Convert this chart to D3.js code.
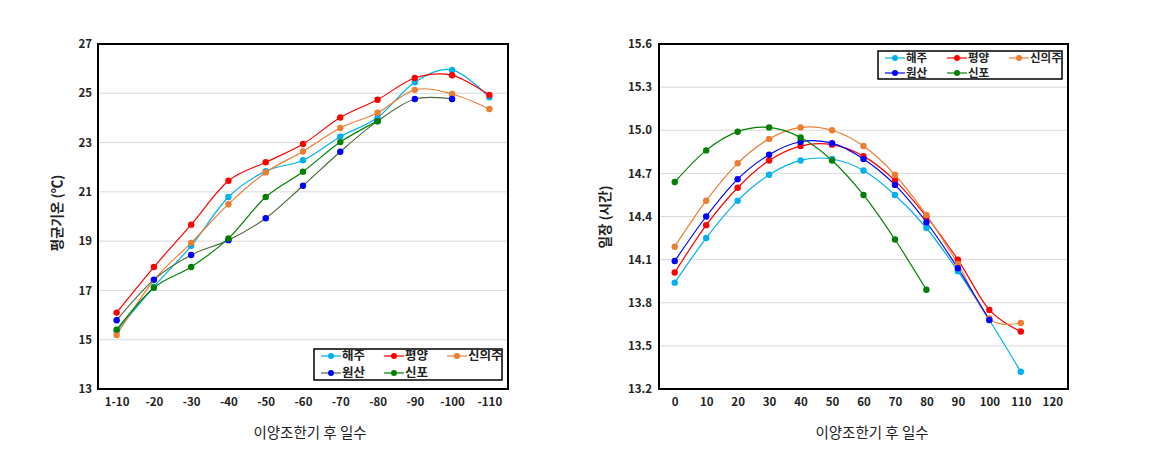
<!DOCTYPE html>
<html><head><meta charset="utf-8">
<script src="https://cdn.jsdelivr.net/npm/d3@7"></script>
<style>
body{margin:0;background:#fff;}
text{font-family:"Noto Sans CJK KR","Noto Sans",sans-serif;}
</style></head>
<body><svg id="c" width="1149" height="472"></svg>
<script>
// ---------- Data ----------
const seriesNames = ["해주","평양","신의주","원산","신포"];
const markerColors = ["#00B0F0","#FF0000","#ED7D31","#0000FF","#008000"];
const leftLineColors = ["#00B0F0","#FF0000","#ED7D31","#4F6B3A","#008000"];
const rightLineColors = ["#00B0F0","#FF0000","#ED7D31","#0000FF","#008000"];

// Left chart: 평균기온
const leftCategories = ["1-10","-20","-30","-40","-50","-60","-70","-80","-90","-100","-110"];
const tempHaeju    = [15.35,17.15,18.81,20.79,21.84,22.28,23.24,24.02,25.45,25.95,24.84];
const tempPyongyang= [16.10,17.95,19.67,21.45,22.20,22.94,24.02,24.74,25.62,25.73,24.93];
const tempSinuiju  = [15.19,17.42,18.93,20.50,21.79,22.64,23.59,24.21,25.14,24.97,24.36];
const tempWonsan   = [15.79,17.44,18.44,19.04,19.93,21.25,22.63,23.87,24.77,24.77,null];
const tempSinpo    = [15.41,17.11,17.95,19.11,20.79,21.82,23.02,23.87,null,null,null];
const leftTicks = [13,15,17,19,21,23,25,27];

// Right chart: 일장
const rightDays = [0,10,20,30,40,50,60,70,80,90,100,110];
const dayHaeju    = [13.94,14.25,14.51,14.69,14.79,14.80,14.72,14.55,14.32,14.02,13.68,13.32];
const dayPyongyang= [14.01,14.34,14.60,14.79,14.89,14.90,14.82,14.65,14.40,14.10,13.75,13.60];
const daySinuiju  = [14.19,14.51,14.77,14.94,15.02,15.00,14.89,14.69,14.41,14.07,13.69,13.66];
const dayWonsan   = [14.09,14.40,14.66,14.83,14.92,14.91,14.80,14.62,14.36,14.04,13.68,null];
const daySinpo    = [14.64,14.86,14.99,15.02,14.95,14.79,14.55,14.24,13.89,null,null,null];
const rightYTicks = [13.2,13.5,13.8,14.1,14.4,14.7,15.0,15.3,15.6];
const rightXTicks = [0,10,20,30,40,50,60,70,80,90,100,110,120];

const svg = d3.select("#c");
const curve = d3.curveCardinal.tension(0);

function drawLegend(g, x0, y0, w, h, lineColors, colStep, rowStep, fs){
  g.append("rect").attr("x",x0).attr("y",y0).attr("width",w).attr("height",h)
    .attr("fill","#fff").attr("stroke","#000").attr("stroke-width",1.5);
  seriesNames.forEach((n,i)=>{
    const col=i%3,row=Math.floor(i/3);
    const lx=x0+7+col*colStep, ly=y0+7+row*rowStep;
    g.append("line").attr("x1",lx).attr("x2",lx+20).attr("y1",ly).attr("y2",ly)
      .attr("stroke",lineColors[i]).attr("stroke-width",1.2);
    g.append("circle").attr("cx",lx+10).attr("cy",ly).attr("r",3).attr("fill",markerColors[i]);
    g.append("text").attr("x",lx+21).attr("y",ly).attr("dy","0.35em")
      .attr("font-size",fs).attr("font-weight","bold").attr("fill","#222").text(n);
  });
}

// ---------- Left chart ----------
(function(){
  const L=98,R=508,T=44,B=389;
  const x=d3.scalePoint().domain(leftCategories).range([L,R]).padding(0.5);
  const y=d3.scaleLinear().domain([13,27]).range([B,T]);
  const g=svg.append("g");
  g.selectAll(".grid").data(leftTicks.slice(1,-1)).join("line")
    .attr("x1",L).attr("x2",R).attr("y1",d=>y(d)).attr("y2",d=>y(d))
    .attr("stroke","#d9d9d9").attr("stroke-width",1);
  const ya=d3.axisLeft(y).tickValues(leftTicks).tickSize(0).tickPadding(6).tickFormat(d3.format("d"));
  g.append("g").attr("transform",`translate(${L},0)`).call(ya)
    .call(a=>a.select(".domain").remove())
    .selectAll("text").attr("font-size",11.5).attr("font-weight","bold").attr("fill","#222")
    .attr("font-family",'"Noto Sans CJK KR",sans-serif');
  const xa=d3.axisBottom(x).tickSize(0).tickPadding(9);
  g.append("g").attr("transform",`translate(0,${B})`).call(xa)
    .call(a=>a.select(".domain").remove())
    .selectAll("text").attr("font-size",11.5).attr("font-weight","bold").attr("fill","#222")
    .attr("font-family",'"Noto Sans CJK KR",sans-serif');
  const data=[tempHaeju,tempPyongyang,tempSinuiju,tempWonsan,tempSinpo];
  data.forEach((s,i)=>{
    const pts=leftCategories.map((c,j)=>[c,s[j]]).filter(p=>p[1]!=null);
    g.append("path").attr("d",d3.line().x(p=>x(p[0])).y(p=>y(p[1])).curve(curve)(pts))
      .attr("fill","none").attr("stroke",leftLineColors[i]).attr("stroke-width",1.2);
  });
  data.forEach((s,i)=>{
    const pts=leftCategories.map((c,j)=>[c,s[j]]).filter(p=>p[1]!=null);
    g.selectAll(null).data(pts).join("circle").attr("cx",p=>x(p[0])).attr("cy",p=>y(p[1]))
      .attr("r",3.2).attr("fill",markerColors[i]);
  });
  g.append("rect").attr("x",L).attr("y",T).attr("width",R-L).attr("height",B-T)
    .attr("fill","none").attr("stroke","#000").attr("stroke-width",2);
  drawLegend(g,314,349,188,31,leftLineColors,63,17,12.5);
  g.append("text").attr("x",310).attr("y",438).attr("text-anchor","middle")
    .attr("font-size",14.5).attr("fill","#222").text("이양조한기 후 일수");
  g.append("text").attr("transform","translate(57,213) rotate(-90)").attr("text-anchor","middle")
    .attr("dy","0.35em").attr("font-size",13.5).attr("font-weight","bold").attr("fill","#222").text("평균기온 (℃)");
})();

// ---------- Right chart ----------
(function(){
  const L=659,R=1068,T=44,B=389;
  const x=d3.scaleLinear().domain([-5,125]).range([L,R]);
  const y=d3.scaleLinear().domain([13.2,15.6]).range([B,T]);
  const g=svg.append("g");
  g.selectAll(".grid").data(rightYTicks.slice(1,-1)).join("line")
    .attr("x1",L).attr("x2",R).attr("y1",d=>y(d)).attr("y2",d=>y(d))
    .attr("stroke","#d9d9d9").attr("stroke-width",1);
  const ya=d3.axisLeft(y).tickValues(rightYTicks).tickSize(0).tickPadding(7).tickFormat(d3.format(".1f"));
  g.append("g").attr("transform",`translate(${L},0)`).call(ya)
    .call(a=>a.select(".domain").remove())
    .selectAll("text").attr("font-size",11.5).attr("font-weight","bold").attr("fill","#222")
    .attr("font-family",'"Noto Sans CJK KR",sans-serif');
  const xa=d3.axisBottom(x).tickValues(rightXTicks).tickSize(0).tickPadding(9).tickFormat(d3.format("d"));
  g.append("g").attr("transform",`translate(0,${B})`).call(xa)
    .call(a=>a.select(".domain").remove())
    .selectAll("text").attr("font-size",11.5).attr("font-weight","bold").attr("fill","#222")
    .attr("font-family",'"Noto Sans CJK KR",sans-serif');
  const data=[dayHaeju,dayPyongyang,daySinuiju,dayWonsan,daySinpo];
  data.forEach((s,i)=>{
    const pts=rightDays.map((d,j)=>[d,s[j]]).filter(p=>p[1]!=null);
    g.append("path").attr("d",d3.line().x(p=>x(p[0])).y(p=>y(p[1])).curve(curve)(pts))
      .attr("fill","none").attr("stroke",rightLineColors[i]).attr("stroke-width",1.2);
  });
  data.forEach((s,i)=>{
    const pts=rightDays.map((d,j)=>[d,s[j]]).filter(p=>p[1]!=null);
    g.selectAll(null).data(pts).join("circle").attr("cx",p=>x(p[0])).attr("cy",p=>y(p[1]))
      .attr("r",3.2).attr("fill",markerColors[i]);
  });
  g.append("rect").attr("x",L).attr("y",T).attr("width",R-L).attr("height",B-T)
    .attr("fill","none").attr("stroke","#000").attr("stroke-width",2);
  drawLegend(g,878,51,184,28,rightLineColors,62,15,11.5);
  g.append("text").attr("x",872).attr("y",438).attr("text-anchor","middle")
    .attr("font-size",14.5).attr("fill","#222").text("이양조한기 후 일수");
  g.append("text").attr("transform","translate(605,217) rotate(-90)").attr("text-anchor","middle")
    .attr("dy","0.35em").attr("font-size",13.5).attr("font-weight","bold").attr("fill","#222").text("일장 (시간)");
})();
</script></body></html>
